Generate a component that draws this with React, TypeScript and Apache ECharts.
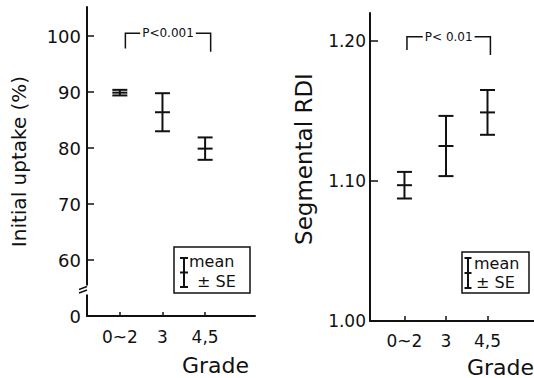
import React, { useEffect, useRef } from "react";
import * as echarts from "echarts";

// ---- data ----
const grades = ["0~2", "3", "4,5"];
const uptakeMean = [89.9, 86.4, 79.9];
const uptakeSE = [0.5, 3.4, 2.0];
const rdiMean = [1.097, 1.125, 1.149];
const rdiSE = [0.0095, 0.0215, 0.016];
// the left axis is broken: its lowest label "0" sits at the bottom of the break
const uptakeTickValues = [50, 60, 70, 80, 90, 100];
const uptakeTickLabels = ["0", "60", "70", "80", "90", "100"];
const rdiTickValues = [1.0, 1.1, 1.2];
const rdiTickLabels = ["1.00", "1.10", "1.20"];
const pTexts = ["P<0.001", "P< 0.01"];
// bracket: [from grade, to grade, top value, left end value, right end value]
const uptakeBracket = [0.13, 2.13, 100.5, 97.8, 97.2];
const rdiBracket = [0.06, 2.07, 1.2031, 1.1936, 1.19];

const FONT = "DejaVu Sans";
const INK = "#111";

function errorBarItem(halfCap: number) {
  return (params: any, api: any) => {
    const x = api.value(0);
    const m = api.value(1);
    const se = api.value(2);
    const top = api.coord([x, m + se]);
    const mid = api.coord([x, m]);
    const bot = api.coord([x, m - se]);
    const style = { stroke: INK, lineWidth: 2 };
    const cap = (p: number[]) => ({
      type: "line",
      shape: { x1: p[0] - halfCap, y1: p[1], x2: p[0] + halfCap, y2: p[1] },
      style,
    });
    return {
      type: "group",
      children: [
        { type: "line", shape: { x1: top[0], y1: top[1], x2: bot[0], y2: bot[1] }, style },
        cap(top),
        cap(mid),
        cap(bot),
      ],
    };
  };
}

function bracketItem(label: string) {
  return (params: any, api: any) => {
    const a = api.coord([api.value(0), api.value(2)]);
    const b = api.coord([api.value(1), api.value(2)]);
    const aEnd = api.coord([api.value(0), api.value(3)]);
    const bEnd = api.coord([api.value(1), api.value(4)]);
    return {
      type: "group",
      children: [
        {
          type: "polyline",
          shape: { points: [[aEnd[0], aEnd[1]], [a[0], a[1]], [b[0], b[1]], [bEnd[0], bEnd[1]]] },
          style: { stroke: INK, lineWidth: 1.5, fill: "none" },
        },
        {
          type: "text",
          x: (a[0] + b[0]) / 2,
          y: a[1],
          z2: 10,
          style: {
            text: label,
            fontSize: 12,
            fontFamily: FONT,
            fill: INK,
            align: "center",
            verticalAlign: "middle",
            backgroundColor: "#fff",
            padding: [0, 2],
          },
        },
      ],
    };
  };
}

function legendGroup(
  x: number, y: number, w: number, h: number,
  symX: number, caps: number[], capHalf: number,
  meanX: number, meanY: number, seX: number, seY: number, fs: number
) {
  const ls = { stroke: INK, lineWidth: 2 };
  return {
    type: "group",
    z: 100,
    children: [
      { type: "rect", shape: { x, y, width: w, height: h }, style: { stroke: INK, lineWidth: 1.5, fill: "#fff" } },
      { type: "line", shape: { x1: symX, y1: caps[0], x2: symX, y2: caps[2] }, style: ls },
      ...caps.map((c) => ({
        type: "line",
        shape: { x1: symX - capHalf, y1: c, x2: symX + capHalf, y2: c },
        style: ls,
      })),
      { type: "text", x: meanX, y: meanY, style: { text: "mean", fontSize: fs, fontFamily: FONT, fill: INK, align: "left", verticalAlign: "middle" } },
      { type: "text", x: seX, y: seY, style: { text: "± SE", fontSize: fs, fontFamily: FONT, fill: INK, align: "left", verticalAlign: "middle" } },
    ],
  };
}

export default function App() {
  const ref = useRef<HTMLDivElement>(null);

  useEffect(() => {
    if (!ref.current) return;
    const chart = echarts.init(ref.current, undefined, { renderer: "svg" });

    const axisLine = { show: true, onZero: false, lineStyle: { color: INK, width: 2 } };
    const catTickValues = grades.map((_, i) => i);

    const option: any = {
      animation: false,
      backgroundColor: "#fff",
      grid: [
        { left: 87, top: 7, width: 168, height: 309 },
        { left: 370, top: 13, width: 164, height: 308 },
      ],
      xAxis: [
        {
          type: "value",
          gridIndex: 0,
          min: -0.77,
          max: 3.17,
          axisLine,
          splitLine: { show: false },
          axisTick: { show: true, inside: true, length: 4, customValues: catTickValues, lineStyle: { color: INK, width: 1.5 } },
          axisLabel: {
            customValues: catTickValues,
            formatter: (v: number) => grades[Math.round(v)] ?? "",
            fontSize: 17,
            fontFamily: FONT,
            color: INK,
            margin: 12,
          },
        },
        {
          type: "value",
          gridIndex: 1,
          min: -0.83,
          max: 3.12,
          axisLine,
          splitLine: { show: false },
          axisTick: { show: true, inside: true, length: 5, customValues: catTickValues, lineStyle: { color: INK, width: 1.5 } },
          axisLabel: {
            customValues: catTickValues,
            formatter: (v: number) => grades[Math.round(v)] ?? "",
            fontSize: 17,
            fontFamily: FONT,
            color: INK,
            margin: 11,
          },
        },
      ],
      yAxis: [
        {
          type: "value",
          gridIndex: 0,
          min: 50,
          max: 105.2,
          axisLine,
          splitLine: { show: false },
          axisTick: { show: true, inside: true, length: 7, customValues: uptakeTickValues.slice(1), lineStyle: { color: INK, width: 1.5 } },
          axisLabel: {
            customValues: uptakeTickValues,
            formatter: (v: number) => {
              const i = uptakeTickValues.findIndex((t) => Math.abs(t - v) < 1e-6);
              return i >= 0 ? uptakeTickLabels[i] : "";
            },
            fontSize: 18,
            fontFamily: FONT,
            color: INK,
            margin: 6,
          },
          name: "Initial uptake (%)",
          nameLocation: "middle",
          nameGap: 58,
          nameTextStyle: { fontSize: 20, fontFamily: FONT, color: INK },
        },
        {
          type: "value",
          gridIndex: 1,
          min: 1.0,
          max: 1.22,
          axisLine,
          splitLine: { show: false },
          axisTick: { show: true, inside: true, length: 8, customValues: rdiTickValues.slice(1), lineStyle: { color: INK, width: 1.5 } },
          axisLabel: {
            customValues: rdiTickValues,
            formatter: (v: number) => {
              const i = rdiTickValues.findIndex((t) => Math.abs(t - v) < 1e-6);
              return i >= 0 ? rdiTickLabels[i] : "";
            },
            fontSize: 17,
            fontFamily: FONT,
            color: INK,
            margin: 4,
          },
          name: "Segmental RDI",
          nameLocation: "middle",
          nameGap: 55,
          nameTextStyle: { fontSize: 23, fontFamily: FONT, color: INK, padding: [0, 0, 0, 16] },
        },
      ],
      series: [
        {
          type: "custom",
          xAxisIndex: 0,
          yAxisIndex: 0,
          renderItem: errorBarItem(7.5),
          data: grades.map((_, i) => [i, uptakeMean[i], uptakeSE[i]]),
        },
        {
          type: "custom",
          xAxisIndex: 1,
          yAxisIndex: 1,
          renderItem: errorBarItem(7.5),
          data: grades.map((_, i) => [i, rdiMean[i], rdiSE[i]]),
        },
        {
          type: "custom",
          xAxisIndex: 0,
          yAxisIndex: 0,
          renderItem: bracketItem(pTexts[0]),
          data: [uptakeBracket],
        },
        {
          type: "custom",
          xAxisIndex: 1,
          yAxisIndex: 1,
          renderItem: bracketItem(pTexts[1]),
          data: [rdiBracket],
        },
      ],
      graphic: [
        // axis break on the left y axis
        { type: "rect", z: 100, shape: { x: 82, y: 285.5, width: 12, height: 9 }, style: { fill: "#fff" } },
        { type: "line", z: 101, shape: { x1: 79, y1: 289.5, x2: 87, y2: 286.5 }, style: { stroke: INK, lineWidth: 1.5 } },
        { type: "line", z: 101, shape: { x1: 79, y1: 293, x2: 87, y2: 290 }, style: { stroke: INK, lineWidth: 1.5 } },
        // axis titles "Grade"
        { type: "text", z: 100, x: 182, y: 365, style: { text: "Grade", fontSize: 22, fontFamily: FONT, fill: INK, align: "left", verticalAlign: "middle" } },
        { type: "text", z: 100, x: 467, y: 367, style: { text: "Grade", fontSize: 22, fontFamily: FONT, fill: INK, align: "left", verticalAlign: "middle" } },
        // legends
        legendGroup(174, 247, 76, 46, 184, [258, 272.5, 287], 4, 189, 261, 197, 281, 16),
        legendGroup(462, 252, 67, 41, 468, [258, 273, 288], 3.5, 474, 263, 476, 282, 16),
      ],
    };

    chart.setOption(option);
    return () => chart.dispose();
  }, []);

  return (
    <div
      ref={ref}
      style={{ position: "absolute", left: 0, top: 0, width: 534, height: 378, background: "#fff" }}
    />
  );
}
